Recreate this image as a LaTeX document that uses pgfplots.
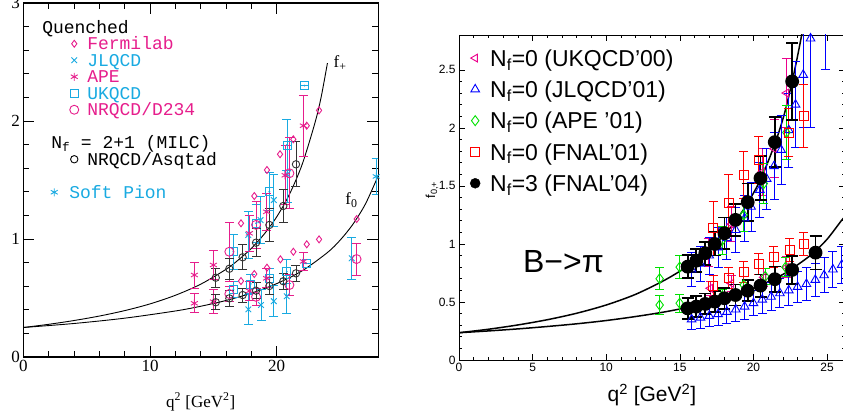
\documentclass[border=0pt]{standalone}
\usepackage{pgfplots}
\pgfplotsset{compat=1.18}
\usepackage{fontspec}
\setmainfont{Liberation Sans}
\newfontfamily\serifL{Liberation Serif}
\newfontfamily\monoL{Liberation Mono}
\definecolor{pinkL}{RGB}{230,30,140}
\definecolor{cyanL}{RGB}{25,170,225}
\definecolor{grnR}{RGB}{0,225,0}
\pgfplotsset{
  ebar/.style={/pgfplots/error bars/y dir=both, /pgfplots/error bars/y explicit,
    /pgfplots/error bars/error bar style={line width=#1},
    /pgfplots/error bars/error mark options={rotate=90, mark size=4.5pt, line width=#1}},
}
\begin{document}
\begin{tikzpicture}
\path[use as bounding box] (0,0) rectangle (843pt,415pt);

% ---- left panel ----
\begin{axis}[
  at={(23.3pt,58pt)}, anchor=south west,
  width=354.8pt, height=354pt, scale only axis,
  xmin=0, xmax=28, ymin=0, ymax=3,
  xtick={0,10,20}, ytick={0,1,2,3},
  minor x tick num=4, minor y tick num=4,
  tick align=inside, major tick length=11pt, minor tick length=6pt,
  axis line style={line width=1.1pt},
  every tick/.append style={line width=0.9pt, black},
  /pgf/number format/assume math mode=true,
  tick label style={font=\serifL\fontsize{17}{17}\selectfont},
  xlabel={q\textsuperscript{2} [GeV\textsuperscript{2}]},
  xlabel style={font=\serifL\fontsize{17}{17}\selectfont, at={(axis description cs:0.5,-0.127)}, anchor=center},
  legend cell align=left,
  legend style={at={(0.119,0.949)}, anchor=north west, draw=none, fill=none, inner sep=0pt,
    row sep=4.5pt, column sep=8.5pt,
    nodes={inner sep=0pt, text height=12pt, text depth=0pt, font=\monoL\fontsize{18}{18}\selectfont}},
]
% fit curves
\addplot[black, line width=0.9pt, smooth, forget plot] coordinates {
 (0,0.25) (2,0.277) (4,0.309) (6,0.347) (8,0.393) (10,0.450) (12,0.523) (14,0.617)
 (16,0.743) (17,0.825) (18,0.921) (19,1.040) (20,1.188) (21,1.378) (22,1.630) (23,1.978) (23.5,2.2) (24,2.49)};
\addplot[black, line width=0.9pt, smooth, forget plot] coordinates {
 (0,0.25) (4,0.284) (8,0.329) (12,0.390) (14,0.430) (16,0.479) (18,0.541) (20,0.622)
 (22,0.730) (24,0.885) (25,0.99) (26,1.123) (27,1.297) (28,1.534)};

% JLQCD
\addplot[only marks, mark=x, mark size=4pt, cyanL, line width=0.9pt, ebar=0.9pt, forget plot] coordinates {
 (17.76,1.034) +- (0,0.2) (18.72,1.16) +- (0,0.2) (19.77,1.33) +- (0,0.22) (20.84,1.55) +- (0,0.24)
 (17.76,0.404) +- (0,0.13) (18.76,0.44) +- (0,0.13) (19.77,0.473) +- (0,0.13) (20.79,0.515) +- (0,0.15)
 (25.92,0.836) +- (0,0.18)};
% UKQCD
\addplot[only marks, mark=square, mark size=4pt, cyanL, line width=0.9pt, ebar=0.9pt, forget plot] coordinates {
 (16.58,0.892) +- (0,0.15) (18.37,1.133) +- (0,0.16) (19.42,1.40) +- (0,0.16) (20.81,1.797) +- (0,0.22) (22.2,2.30) +- (0,0)
 (16.58,0.574) +- (0,0.07) (17.95,0.619) +- (0,0.08) (19.42,0.667) +- (0,0.08) (20.79,0.723) +- (0,0.1) (22.31,0.794) +- (0,0)};
\addplot[only marks, mark=*, mark size=0.7pt, cyanL, forget plot] coordinates {
 (16.58,0.892) (18.37,1.133) (19.42,1.40) (20.81,1.797) (22.2,2.30)
 (16.58,0.574) (17.95,0.619) (19.42,0.667) (20.79,0.723) (22.31,0.794)};
% Soft pion
\addplot[only marks, mark=asterisk, mark size=4pt, cyanL, line width=0.9pt, ebar=0.9pt, forget plot] coordinates {
 (27.85,1.53) +- (0,0.15)};
% APE
\addplot[only marks, mark=asterisk, mark size=4pt, pinkL, line width=0.9pt, ebar=0.9pt, forget plot] coordinates {
 (13.5,0.695) +- (0,0.11) (15.0,0.78) +- (0,0.127) (17.84,1.048) +- (0,0.15) (19.2,1.23) +- (0,0.16)
 (20.66,1.54) +- (0,0.25) (22.1,1.96) +- (0,0.26)
 (13.5,0.455) +- (0,0.08) (15.0,0.469) +- (0,0.1) (17.84,0.56) +- (0,0.08) (19.2,0.667) +- (0,0.08) (22.1,0.81) +- (0,0.08)};
% NRQCD/D234
\addplot[only marks, mark=o, mark size=4.5pt, pinkL, line width=0.9pt, ebar=0.9pt, forget plot] coordinates {
 (16.26,0.892) +- (0,0.25) (18.37,1.12) +- (0,0.2) (21.0,1.557) +- (0,0.3)
 (16.26,0.534) +- (0,0.06) (18.37,0.51) +- (0,0.07) (21.0,0.61) +- (0,0.09) (26.3,0.83) +- (0,0.135)};
% Fermilab
\addplot[only marks, mark=diamond, mark size=3.5pt, pinkL, line width=0.9pt, forget plot] coordinates {
 (17.18,1.133) (18.23,1.364) (19.23,1.585) (20.26,1.718) (21.31,1.845) (22.37,1.96) (23.34,2.09)
 (17.18,0.644) (18.23,0.703) (19.23,0.757) (20.29,0.828) (21.31,0.892) (22.37,0.955) (23.34,0.997) (26.31,1.169)};
% NRQCD/Asqtad (MILC)
\addplot[only marks, mark=o, mark size=3.7pt, black!80, line width=0.9pt, ebar=0.9pt, forget plot] coordinates {
 (15.19,0.672) +- (0,0.08) (16.26,0.748) +- (0,0.09) (17.31,0.845) +- (0,0.106) (18.37,0.969) +- (0,0.12)
 (19.42,1.119) +- (0,0.137) (20.52,1.28) +- (0,0.14) (21.52,1.633) +- (0,0.19)
 (15.19,0.464) +- (0,0.064) (16.26,0.497) +- (0,0.07) (17.31,0.525) +- (0,0.06) (18.37,0.562) +- (0,0.07)
 (19.42,0.602) +- (0,0.07) (20.52,0.642) +- (0,0.07) (21.52,0.709) +- (0,0.07)};

\node[font=\serifL\fontsize{17}{17}\selectfont] at (axis cs:25.0,2.49) {f\textsubscript{+}};
\node[font=\serifL\fontsize{17}{17}\selectfont] at (axis cs:25.9,1.33) {f\textsubscript{0}};

% legend
\addlegendimage{empty legend}\addlegendentry{\hspace*{-45pt}Quenched}
\addlegendimage{only marks, mark=diamond, mark size=3.5pt, pinkL, line width=0.9pt}\addlegendentry{\textcolor{pinkL}{Fermilab}}
\addlegendimage{only marks, mark=x, mark size=4pt, cyanL, line width=0.9pt}\addlegendentry{\textcolor{cyanL}{JLQCD}}
\addlegendimage{only marks, mark=asterisk, mark size=4pt, pinkL, line width=0.9pt}\addlegendentry{\textcolor{pinkL}{APE}}
\addlegendimage{only marks, mark=square, mark size=4pt, cyanL, line width=0.9pt}\addlegendentry{\color{cyanL}UKQCD}
\addlegendimage{only marks, mark=o, mark size=4.5pt, pinkL, line width=0.9pt}\addlegendentry{\textcolor{pinkL}{NRQCD/D234}}
\addlegendimage{empty legend}\addlegendentry{}
\addlegendimage{empty legend}\addlegendentry{\hspace*{-36pt}N\textsubscript{f} = 2+1 (MILC)}
\addlegendimage{only marks, mark=o, mark size=3.7pt, black, line width=0.9pt}\addlegendentry{NRQCD/Asqtad}
\addlegendimage{empty legend}\addlegendentry{}
\addlegendimage{legend image code/.code={\draw[overlay, cyanL, line width=0.9pt] plot[mark=asterisk, mark size=4pt] coordinates {(-11.5pt,0pt)};}}\addlegendentry{\hspace*{-18pt}\textcolor{cyanL}{Soft Pion}}
\end{axis}

% ---- right panel ----
\begin{axis}[
  at={(459pt,55pt)}, anchor=south west,
  width=385.7pt, height=325pt, scale only axis,
  xmin=0, xmax=26.2, ymin=0, ymax=2.8,
  xtick={0,5,...,25}, ytick={0,0.5,...,2.5},
  minor x tick num=4, minor y tick num=4,
  tick align=inside, major tick length=6pt, minor tick length=3pt,
  axis line style={line width=0.8pt},
  every tick/.append style={line width=0.6pt, black},
  /pgf/number format/assume math mode=true,
  tick label style={font=\fontsize{12}{12}\selectfont},
  xlabel={q\textsuperscript{2} [GeV\textsuperscript{2}]},
  xlabel style={font=\fontsize{21}{21}\selectfont, at={(axis description cs:0.5,-0.108)}, anchor=center},
  ylabel={f\textsubscript{0,+}},
  ylabel style={font=\fontsize{13}{13}\selectfont, at={(axis description cs:-0.07,0.523)}, anchor=center},
  legend cell align=left,
  legend style={at={(0.0285,0.955)}, anchor=north west, draw=none, fill=none, inner sep=0pt,
    row sep=14.8pt, column sep=10pt,
    nodes={inner sep=0pt, text height=16.5pt, text depth=0pt, font=\fontsize{23}{23}\selectfont}},
]
\addplot[black, line width=1.5pt, smooth, forget plot] coordinates {
 (0,0.235) (2,0.265) (4,0.302) (6,0.347) (8,0.403) (10,0.474) (12,0.566) (14,0.69) (15.5,0.805)
 (16.5,0.90) (17.4,1.0) (18.1,1.09) (18.8,1.20) (19.6,1.35) (20.5,1.56) (21.45,1.86) (22.1,2.12)
 (22.63,2.40) (23.0,2.62) (23.4,2.88)};
\addplot[black, line width=1.5pt, smooth, forget plot] coordinates {
 (0,0.235) (2,0.2505) (4,0.268) (6,0.2887) (8,0.312) (10,0.340) (12,0.3746) (14,0.415) (16,0.466)
 (18,0.531) (20,0.617) (22,0.737) (23,0.82) (24,0.915) (25,1.04) (26,1.205) (26.2,1.23)};

% UKQCD'00
\addplot[only marks, mark=triangle, mark options={rotate=90}, mark size=4.5pt, magenta, line width=0.9pt, ebar=0.9pt, forget plot] coordinates {
 (16.94,0.93) +- (0,0.12) (18.5,1.17) +- (0,0.15) (20.6,1.62) +- (0,0.2) (21.4,1.82) +- (0,0.25) (22.24,2.30) +- (0,0.3)
 (17.07,0.618) +- (0,0.06) (18.5,0.66) +- (0,0.07) (20.7,0.713) +- (0,0.08) (22.24,0.80) +- (0,0.09)};
% JLQCD'01
\addplot[only marks, mark=triangle, mark size=5pt, blue, line width=0.9pt, ebar=0.9pt, forget plot] coordinates {
 (15.8,0.78) +- (0,0.15) (16.4,0.83) +- (0,0.15) (17.0,0.90) +- (0,0.16) (17.6,0.97) +- (0,0.17)
 (18.2,1.05) +- (0,0.18) (18.8,1.12) +- (0,0.19) (19.4,1.22) +- (0,0.2) (19.84,1.32) +- (0,0.21)
 (20.43,1.466) +- (0,0.24) (20.9,1.56) +- (0,0.26) (21.4,1.67) +- (0,0.29) (21.88,1.81) +- (0,0.3)
 (22.4,1.98) +- (0,0.32) (22.86,2.2) +- (0,0.37) (23.38,2.457) +- (0,0.45) (23.88,2.77) +- (0,0.77)
 (24.9,3.2) +- (0,0.7)
 (15.8,0.35) +- (0,0.09) (16.4,0.365) +- (0,0.09) (17.0,0.38) +- (0,0.095) (17.6,0.395) +- (0,0.1)
 (18.2,0.415) +- (0,0.1) (18.8,0.435) +- (0,0.105) (19.4,0.46) +- (0,0.11) (20.0,0.49) +- (0,0.11)
 (20.6,0.52) +- (0,0.115) (21.2,0.545) +- (0,0.12) (21.8,0.575) +- (0,0.125) (22.4,0.60) +- (0,0.13)
 (23.0,0.63) +- (0,0.135) (23.6,0.655) +- (0,0.14) (24.2,0.69) +- (0,0.145) (24.8,0.73) +- (0,0.15)
 (25.4,0.78) +- (0,0.155) (26.0,0.82) +- (0,0.16)};
% APE'01
\addplot[only marks, mark=diamond, mark size=5pt, grnR, line width=0.9pt, ebar=0.9pt, forget plot] coordinates {
 (13.63,0.70) +- (0,0.095) (14.99,0.80) +- (0,0.1) (17.87,1.03) +- (0,0.12) (19.34,1.25) +- (0,0.14)
 (20.7,1.52) +- (0,0.17) (22.24,1.96) +- (0,0.23)
 (13.63,0.474) +- (0,0.08) (14.99,0.489) +- (0,0.08) (17.87,0.55) +- (0,0.06) (19.34,0.647) +- (0,0.07)
 (20.8,0.72) +- (0,0.07) (22.18,0.80) +- (0,0.08)};
% FNAL'01
\addplot[only marks, mark=square, mark size=4.5pt, red, line width=0.9pt, ebar=0.9pt, forget plot] coordinates {
 (17.26,1.135) +- (0,0.23) (18.32,1.356) +- (0,0.24) (19.34,1.595) +- (0,0.2) (20.36,1.724) +- (0,0.2)
 (22.4,1.96) +- (0,0.21) (23.42,2.10) +- (0,0.27)
 (17.26,0.641) +- (0,0.09) (18.32,0.704) +- (0,0.09) (19.34,0.761) +- (0,0.09) (20.36,0.828) +- (0,0.09)
 (21.38,0.885) +- (0,0.09) (22.47,0.948) +- (0,0.1) (23.42,1.0) +- (0,0.1)};
% FNAL'04
\addplot[only marks, mark=*, mark size=6pt, black, line width=1.8pt, forget plot,
  error bars/.cd, y dir=both, y explicit, error bar style={line width=1.8pt},
  error mark options={rotate=90, mark size=6pt, line width=1.8pt}] coordinates {
 (15.53,0.804) +- (0,0.1) (16.12,0.856) +- (0,0.1) (16.73,0.92) +- (0,0.1) (17.37,1.0) +- (0,0.1)
 (18.03,1.092) +- (0,0.135) (18.78,1.207) +- (0,0.14) (19.61,1.36) +- (0,0.16) (20.48,1.566) +- (0,0.19)
 (21.45,1.877) +- (0,0.215) (22.63,2.40) +- (0,0.33)
 (15.53,0.445) +- (0,0.09) (16.12,0.46) +- (0,0.09) (16.73,0.483) +- (0,0.09) (17.37,0.503) +- (0,0.09)
 (18.03,0.532) +- (0,0.09) (18.78,0.56) +- (0,0.09) (19.61,0.597) +- (0,0.09) (20.48,0.641) +- (0,0.095)
 (21.45,0.696) +- (0,0.11) (22.63,0.776) +- (0,0.12) (24.22,0.925) +- (0,0.145)};

\node[font=\fontsize{32}{32}\selectfont] at (axis cs:7.1,0.845) {B−>π};

\addlegendimage{only marks, mark=triangle, mark options={rotate=90}, mark size=4.5pt, magenta, line width=0.9pt}
\addlegendentry{N\textsubscript{f}=0 (UKQCD’00)}
\addlegendimage{only marks, mark=triangle, mark size=5pt, blue, line width=0.9pt}
\addlegendentry{N\textsubscript{f}=0 (JLQCD’01)}
\addlegendimage{only marks, mark=diamond, mark size=5pt, grnR, line width=0.9pt}
\addlegendentry{N\textsubscript{f}=0 (APE ’01)}
\addlegendimage{only marks, mark=square, mark size=4.5pt, red, line width=0.9pt}
\addlegendentry{N\textsubscript{f}=0 (FNAL’01)}
\addlegendimage{only marks, mark=*, mark size=5pt, black}
\addlegendentry{N\textsubscript{f}=3 (FNAL’04)}
\end{axis}
\end{tikzpicture}
\end{document}
